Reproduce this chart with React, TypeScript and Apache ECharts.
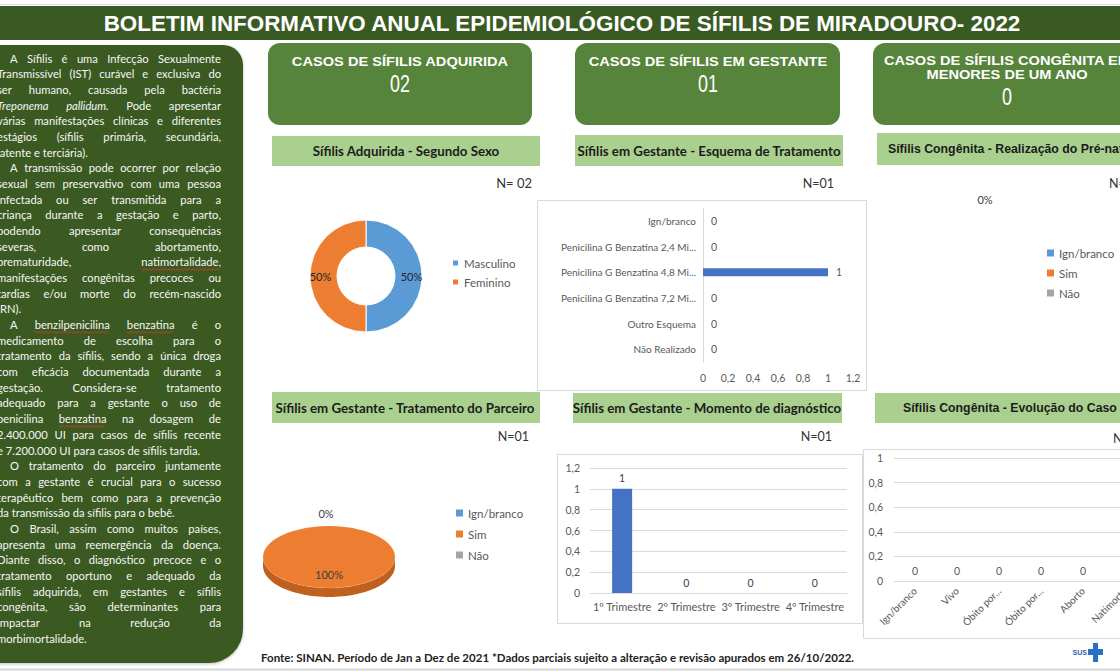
import React, { useEffect, useRef } from "react";
import * as echarts from "echarts";

// ---------------- data ----------------
const TITLE = "BOLETIM INFORMATIVO ANUAL EPIDEMIOLÓGICO DE SÍFILIS DE MIRADOURO- 2022";

const CARD_LABELS: string[][] = [
  ["CASOS DE SÍFILIS ADQUIRIDA"],
  ["CASOS DE SÍFILIS EM GESTANTE"],
  ["CASOS DE SÍFILIS CONGÊNITA EM", "MENORES DE UM ANO"],
];
const CARD_VALUES = ["02", "01", "0"];

const HEADER_TITLES = [
  "Sífilis Adquirida - Segundo Sexo",
  "Sífilis em Gestante - Esquema de Tratamento",
  "Sífilis Congênita - Realização do Pré-natal",
  "Sífilis em Gestante - Tratamento do Parceiro",
  "Sífilis em Gestante - Momento de diagnóstico",
  "Sífilis Congênita - Evolução do Caso",
];
const N_LABELS = ["N= 02", "N=01", "N=0", "N=01", "N=01", "N=0"];

const SEXO_CATEGORIES = ["Masculino", "Feminino"];
const SEXO_VALUES = [1, 1];

const ESQUEMA_CATEGORIES = [
  "Ign/branco",
  "Penicilina G Benzatina 2,4 Mi...",
  "Penicilina G Benzatina 4,8 Mi...",
  "Penicilina G Benzatina 7,2 Mi...",
  "Outro Esquema",
  "Não Realizado",
];
const ESQUEMA_VALUES = [0, 0, 1, 0, 0, 0];

const PRENATAL_CATEGORIES = ["Ign/branco", "Sim", "Não"];
const PRENATAL_VALUES = [0, 0, 0];

const PARCEIRO_CATEGORIES = ["Ign/branco", "Sim", "Não"];
const PARCEIRO_VALUES = [0, 1, 0];

const TRIMESTRE_CATEGORIES = ["1º Trimestre", "2º Trimestre", "3º Trimestre", "4º Trimestre"];
const TRIMESTRE_VALUES = [1, 0, 0, 0];

const EVOLUCAO_CATEGORIES = ["Ign/branco", "Vivo", "Óbito por...", "Óbito por...", "Aborto", "Natimorto"];
const EVOLUCAO_VALUES = [0, 0, 0, 0, 0, 0];

const FOOTER =
  "Fonte: SINAN. Período de Jan a Dez de 2021 *Dados parciais sujeito a alteração e revisão apurados em 26/10/2022.";

// "_" = italic word, "~" = spell-check squiggle
const PANEL_PARAGRAPHS: string[][] = [
  [
    "A Sífilis é uma Infecção Sexualmente",
    "Transmissível (IST) curável e exclusiva do",
    "ser humano, causada pela bactéria",
    "_Treponema _pallidum. Pode apresentar",
    "várias manifestações clínicas e diferentes",
    "estágios (sífilis primária, secundária,",
    "latente e terciária).",
  ],
  [
    "A transmissão pode ocorrer por relação",
    "sexual sem preservativo com uma pessoa",
    "infectada ou ser transmitida para a",
    "criança durante a gestação e parto,",
    "podendo apresentar consequências",
    "severas, como abortamento,",
    "prematuridade, ~natimortalidade,",
    "manifestações congênitas precoces ou",
    "tardias e/ou morte do recém-nascido",
    "(RN).",
  ],
  [
    "A ~benzilpenicilina ~benzatina é o",
    "medicamento de escolha para o",
    "tratamento da sífilis, sendo a única droga",
    "com eficácia documentada durante a",
    "gestação. Considera-se tratamento",
    "adequado para a gestante o uso de",
    "penicilina ~benzatina na dosagem de",
    "2.400.000 UI para casos de sífilis recente",
    "e 7.200.000 UI para casos de sífilis tardia.",
  ],
  [
    "O tratamento do parceiro juntamente",
    "com a gestante é crucial para o sucesso",
    "terapêutico bem como para a prevenção",
    "da transmissão da sífilis para o bebê.",
  ],
  [
    "O Brasil, assim como muitos países,",
    "apresenta uma reemergência da doença.",
    "Diante disso, o diagnóstico precoce e o",
    "tratamento oportuno e adequado da",
    "sífilis adquirida, em gestantes e sífilis",
    "congênita, são determinantes para",
    "impactar na redução da",
    "morbimortalidade.",
  ],
];

// ---------------- styles ----------------
const DARK = "#3a5a24";
const MID = "#56843a";
const LIGHT = "#a9d08e";
const BLUE = "#5b9bd5";
const ORANGE = "#ed7d31";
const GRAY = "#a5a5a5";
const BAR = "#4472c4";
const AX = "#595959";
const GL = "#d9d9d9";
const PIE_COLORS = [BLUE, ORANGE, GRAY];
const PIE_SIDE = ["#3f78ad", "#c0601f", "#858585"];

const measureCtx = document.createElement("canvas").getContext("2d") as CanvasRenderingContext2D;
function textWidth(text: string, font: string) {
  measureCtx.font = font;
  return measureCtx.measureText(text).width;
}
const dec = (v: number) => String(Math.round(v * 10) / 10).replace(".", ",");
const pct = (v: number, total: number) => (total > 0 ? Math.round((v / total) * 100) : 0) + "%";

function panelElements() {
  const els: any[] = [];
  const size = 11.2;
  const L = -3, R = 221, INDENT = 13, TOP = 58, LH = 15.68;
  let lineIdx = 0;
  PANEL_PARAGRAPHS.forEach((para) => {
    para.forEach((line, li) => {
      const y = TOP + lineIdx * LH;
      const left = li === 0 ? L + INDENT : L;
      const words = line.split(" ").map((w) => {
        let t = w, italic = false, squig = false;
        while (t[0] === "_" || t[0] === "~") {
          if (t[0] === "_") italic = true; else squig = true;
          t = t.slice(1);
        }
        const font = `${italic ? "italic" : "normal"} normal ${size}px Lato`;
        return { t, italic, squig, w: textWidth(t, font) };
      });
      const total = words.reduce((a, b) => a + b.w, 0);
      const last = li === para.length - 1;
      const gap = last || words.length < 2 ? textWidth(" ", `${size}px Lato`) : (R - left - total) / (words.length - 1);
      let x = left;
      words.forEach((wd) => {
        els.push({
          type: "text", x, y, silent: true, z: 5,
          style: { text: wd.t, fill: "#f5f5f5", fontFamily: "Lato", fontSize: size, fontStyle: wd.italic ? "italic" : "normal", align: "left", verticalAlign: "middle" },
        });
        if (wd.squig) {
          const pts: number[][] = [];
          for (let px = 0; px <= wd.w; px += 2) pts.push([x + px, y + 7 + ((px / 2) % 2 === 0 ? 0 : 1.6)]);
          els.push({ type: "polyline", silent: true, z: 5, shape: { points: pts }, style: { stroke: "#d8392c", lineWidth: 0.9, fill: null } });
        }
        x += wd.w + gap;
      });
      lineIdx++;
    });
  });
  return els;
}

const P3 = { cx: 329, cy: 557, rx: 66, ry: 31, depth: 9 };
function renderPie3D(params: any) {
  const i = params.dataIndex;
  const vals = PARCEIRO_VALUES;
  const sum = vals.reduce((a, b) => a + b, 0);
  const total = sum || 1;
  let start = 0;
  for (let k = 0; k < i; k++) start += vals[k];
  const f0 = start / total, f1 = (start + vals[i]) / total;
  const a0 = f0 * 2 * Math.PI, a1 = f1 * 2 * Math.PI;
  const pt = (a: number, dy = 0) => [P3.cx + P3.rx * Math.sin(a), P3.cy - P3.ry * Math.cos(a) + dy];
  const children: any[] = [];
  if (a1 > a0) {
    const steps = Math.max(12, Math.ceil((a1 - a0) / (Math.PI / 90)));
    const top: number[][] = [];
    if (f1 - f0 < 0.9999) top.push([P3.cx, P3.cy]);
    for (let s = 0; s <= steps; s++) top.push(pt(a0 + ((a1 - a0) * s) / steps));
    const b0 = Math.max(a0, Math.PI / 2), b1 = Math.min(a1, (3 * Math.PI) / 2);
    if (b1 > b0) {
      const side: number[][] = [];
      const n = 60;
      for (let s = 0; s <= n; s++) side.push(pt(b0 + ((b1 - b0) * s) / n));
      for (let s = n; s >= 0; s--) side.push(pt(b0 + ((b1 - b0) * s) / n, P3.depth));
      children.push({ type: "polygon", z2: 1, shape: { points: side }, style: { fill: PIE_SIDE[i] } });
    }
    children.push({ type: "polygon", z2: 2, shape: { points: top }, style: { fill: PIE_COLORS[i], stroke: "rgba(255,255,255,0.25)", lineWidth: 0.5 } });
    const mid = (a0 + a1) / 2;
    children.push({
      type: "text", z2: 3, x: P3.cx + 0.55 * P3.rx * Math.sin(mid), y: P3.cy - 0.55 * P3.ry * Math.cos(mid),
      style: { text: pct(vals[i], sum), fill: "#404040", fontFamily: "Lato", fontSize: 11, align: "center", verticalAlign: "middle" },
    });
  } else {
    let dup = false;
    for (let j = 0; j < i; j++) {
      let sj = 0;
      for (let k = 0; k < j; k++) sj += vals[k];
      if (vals[j] === 0 && Math.abs(((sj / total) % 1) - (f0 % 1)) < 1e-6) dup = true;
    }
    if (!dup) {
      children.push({
        type: "text", z2: 3, x: P3.cx + (P3.rx + 12) * Math.sin(a0) - 3, y: P3.cy - (P3.ry + 13) * Math.cos(a0),
        style: { text: pct(vals[i], sum), fill: "#404040", fontFamily: "Lato", fontSize: 11, align: "center", verticalAlign: "middle" },
      });
    }
  }
  return { type: "group", children };
}

function buildOption() {
  const g: any[] = [];
  // top faint line and title bar
  g.push({ type: "line", silent: true, shape: { x1: 0, y1: 4.5, x2: 1200, y2: 4.5 }, style: { stroke: "#dedede", lineWidth: 1 } });
  g.push({ type: "rect", silent: true, shape: { x: 0, y: 6, width: 1200, height: 34 }, style: { fill: DARK } });
  const titleFont = "bold 22px 'Liberation Sans'";
  g.push({
    type: "text", x: 562, y: 23.5, scaleX: 919 / textWidth(TITLE, titleFont), silent: true, z: 5,
    style: { text: TITLE, fill: "#ffffff", fontFamily: "Liberation Sans", fontWeight: "bold", fontSize: 22, align: "center", verticalAlign: "middle" },
  });
  // left panel
  g.push({ type: "rect", silent: true, shape: { x: -30, y: 45, width: 273, height: 618, r: [0, 20, 34, 0] }, style: { fill: DARK, shadowBlur: 3, shadowColor: "rgba(0,0,0,0.25)", shadowOffsetY: 1 } });
  g.push(...panelElements());

  // cards
  const cardBoxes = [
    { x: 268, y: 43, w: 264, h: 82, cx: 400 },
    { x: 575, y: 43, w: 265, h: 82, cx: 708 },
    { x: 873, y: 43, w: 270, h: 82, cx: 1007 },
  ];
  const labelFont = "bold 13.5px 'Liberation Sans'";
  const kLabel = 217 / textWidth(CARD_LABELS[0][0], labelFont);
  cardBoxes.forEach((b, i) => {
    g.push({ type: "rect", silent: true, shape: { x: b.x, y: b.y, width: b.w, height: b.h, r: 12 }, style: { fill: MID } });
    const lines = CARD_LABELS[i];
    lines.forEach((ln, li) => {
      g.push({
        type: "text", silent: true, z: 5, x: b.cx, y: 61 + li * 14 - (lines.length > 1 ? 1 : 0), scaleX: kLabel,
        style: { text: ln, fill: "#ffffff", fontFamily: "Liberation Sans", fontWeight: "bold", fontSize: 13.5, align: "center", verticalAlign: "middle" },
      });
    });
    g.push({
      type: "text", silent: true, z: 5, x: b.cx, y: lines.length > 1 ? 97 : 84, scaleX: 0.78,
      style: { text: CARD_VALUES[i], fill: "#ffffff", fontFamily: "Liberation Sans", fontSize: 23, align: "center", verticalAlign: "middle" },
    });
  });

  // chart headers
  const headers = [
    { x: 272, y: 136, w: 268, h: 30, tx: 406, align: "center", arial: false },
    { x: 575, y: 135, w: 268, h: 31, tx: 709, align: "center", arial: false },
    { x: 877, y: 133, w: 300, h: 32, tx: 888, align: "left", arial: true },
    { x: 272, y: 392, w: 268, h: 31, tx: 405, align: "center", arial: false },
    { x: 573, y: 393, w: 269, h: 30, tx: 707, align: "center", arial: false },
    { x: 875, y: 393, w: 300, h: 30, tx: 903, align: "left", arial: true },
  ];
  headers.forEach((h, i) => {
    g.push({ type: "rect", silent: true, shape: { x: h.x, y: h.y, width: h.w, height: h.h }, style: { fill: LIGHT } });
    g.push({
      type: "text", silent: true, z: 5, x: h.tx, y: h.y + h.h / 2,
      style: {
        text: HEADER_TITLES[i], fill: "#1c1c1c", fontFamily: h.arial ? "Liberation Sans" : "Lato", fontWeight: "bold",
        fontSize: h.arial ? 12.3 : 13.3, align: h.align, verticalAlign: "middle",
      },
    });
  });

  // N labels
  const nPos = [
    { x: 532, y: 183, align: "right", fs: 13 },
    { x: 834, y: 183, align: "right", fs: 12.5 },
    { x: 1109, y: 183, align: "left", fs: 12.5 },
    { x: 529, y: 436, align: "right", fs: 12.5 },
    { x: 832, y: 436, align: "right", fs: 12.5 },
    { x: 1113, y: 438, align: "left", fs: 12.5 },
  ];
  nPos.forEach((p, i) => {
    g.push({
      type: "text", silent: true, z: 5, x: p.x, y: p.y,
      style: { text: N_LABELS[i], fill: "#333333", fontFamily: "Lato", fontSize: p.fs, align: p.align, verticalAlign: "middle" },
    });
  });

  // chart frames
  [
    { x: 537.5, y: 200.5, w: 329, h: 190 },
    { x: 557.5, y: 454.5, w: 305, h: 169 },
    { x: 863.5, y: 449.5, w: 290, h: 189 },
  ].forEach((b) => {
    g.push({ type: "rect", silent: true, shape: { x: b.x, y: b.y, width: b.w, height: b.h }, style: { fill: "none", stroke: GL, lineWidth: 1 } });
  });

  // pre-natal pie percentage label (all zero)
  const prenatalSum = PRENATAL_VALUES.reduce((a, b) => a + b, 0);
  g.push({
    type: "text", silent: true, z: 5, x: 985, y: 199,
    style: { text: pct(PRENATAL_VALUES[0], prenatalSum), fill: "#404040", fontFamily: "Lato", fontSize: 11, align: "center", verticalAlign: "middle" },
  });

  // footer
  const footFont = "bold 11px Lato";
  g.push({
    type: "text", silent: true, z: 5, x: 261, y: 658, scaleX: 594 / textWidth(FOOTER, footFont),
    style: { text: FOOTER, fill: "#222222", fontFamily: "Lato", fontWeight: "bold", fontSize: 11, align: "left", verticalAlign: "middle" },
  });
  // SUS logo
  g.push({ type: "text", silent: true, z: 5, x: 1087, y: 652.5, style: { text: "SUS", fill: "#2a62b0", fontFamily: "Liberation Sans", fontWeight: "bold", fontSize: 7, align: "right", verticalAlign: "middle" } });
  g.push({ type: "rect", silent: true, shape: { x: 1088, y: 649, width: 15, height: 6 }, style: { fill: "#2a6fc2" } });
  g.push({ type: "rect", silent: true, shape: { x: 1093, y: 643, width: 5, height: 19 }, style: { fill: "#2a6fc2" } });
  // bottom line
  g.push({ type: "line", silent: true, shape: { x1: 0, y1: 669.5, x2: 1200, y2: 669.5 }, style: { stroke: "#d6d6d6", lineWidth: 2 } });

  const legendBase = {
    orient: "vertical", icon: "rect", itemWidth: 7, itemHeight: 7, padding: 0, selectedMode: false,
    textStyle: { color: AX, fontSize: 11.5, fontFamily: "Lato" },
  };

  return {
    animation: false,
    backgroundColor: "#ffffff",
    textStyle: { fontFamily: "Lato" },
    graphic: { elements: g },
    legend: [
      { ...legendBase, data: SEXO_CATEGORIES, left: 451, top: 257, itemGap: 7 },
      { ...legendBase, data: PRENATAL_CATEGORIES, left: 1047, top: 247, itemGap: 8 },
      { ...legendBase, data: PARCEIRO_CATEGORIES, left: 456, top: 507, itemGap: 9 },
    ],
    grid: [
      { left: 703, top: 208, width: 150, height: 154 },
      { left: 590, top: 468, width: 257, height: 125 },
      { left: 894, top: 458, width: 252, height: 123 },
    ],
    xAxis: [
      {
        type: "value", gridIndex: 0, min: 0, max: 1.2, interval: 0.2,
        axisLine: { show: false }, axisTick: { show: false }, splitLine: { show: false },
        axisLabel: { formatter: dec, color: AX, fontSize: 10.5, margin: 10 },
      },
      {
        type: "category", gridIndex: 1, data: TRIMESTRE_CATEGORIES,
        axisLine: { lineStyle: { color: GL } }, axisTick: { show: false },
        axisLabel: { color: AX, fontSize: 11, margin: 8, interval: 0 },
      },
      {
        type: "category", gridIndex: 2, data: EVOLUCAO_CATEGORIES,
        axisLine: { lineStyle: { color: GL } }, axisTick: { show: false },
        axisLabel: { color: AX, fontSize: 10, margin: 8, interval: 0, rotate: 45 },
      },
    ],
    yAxis: [
      {
        type: "category", gridIndex: 0, data: ESQUEMA_CATEGORIES, inverse: true,
        axisLine: { lineStyle: { color: GL } }, axisTick: { show: false },
        axisLabel: { color: AX, fontSize: 10, margin: 7, interval: 0 },
      },
      {
        type: "value", gridIndex: 1, min: 0, max: 1.2, interval: 0.2,
        axisLine: { show: false }, axisTick: { show: false }, splitLine: { lineStyle: { color: GL } },
        axisLabel: { formatter: dec, color: AX, fontSize: 10.5, margin: 10 },
      },
      {
        type: "value", gridIndex: 2, min: 0, max: 1, interval: 0.2,
        axisLine: { show: false }, axisTick: { show: false }, splitLine: { lineStyle: { color: GL } },
        axisLabel: { formatter: dec, color: AX, fontSize: 10.5, margin: 11 },
      },
    ],
    series: [
      {
        type: "pie", name: "Sexo", center: [366, 276], radius: [29, 56], startAngle: 90, silent: true,
        percentPrecision: 0,
        itemStyle: { borderColor: "#ffffff", borderWidth: 1 },
        label: { show: true, position: "inside", formatter: "{d}%", color: "#262626", fontSize: 11, fontFamily: "Lato" },
        labelLine: { show: false },
        data: SEXO_CATEGORIES.map((n, i) => ({ name: n, value: SEXO_VALUES[i], itemStyle: { color: PIE_COLORS[i] } })),
      },
      {
        type: "bar", name: "Esquema", xAxisIndex: 0, yAxisIndex: 0, data: ESQUEMA_VALUES, barWidth: 8, silent: true,
        itemStyle: { color: BAR },
        label: { show: true, position: "right", distance: 8, color: AX, fontSize: 10.5 },
      },
      {
        type: "pie", name: "Pré-natal", center: [990, 285], radius: [0, 60], silent: true, stillShowZeroSum: false,
        label: { show: false }, labelLine: { show: false },
        data: PRENATAL_CATEGORIES.map((n, i) => ({ name: n, value: PRENATAL_VALUES[i], itemStyle: { color: PIE_COLORS[i] } })),
      },
      {
        type: "custom", name: "Parceiro", coordinateSystem: "none", silent: true,
        data: PARCEIRO_VALUES, renderItem: renderPie3D,
      },
      {
        type: "bar", name: "Trimestre", xAxisIndex: 1, yAxisIndex: 1, data: TRIMESTRE_VALUES, barWidth: 20, silent: true,
        itemStyle: { color: BAR },
        label: { show: true, position: "top", distance: 5, color: "#404040", fontSize: 10.5 },
      },
      {
        type: "bar", name: "Evolução", xAxisIndex: 2, yAxisIndex: 2, data: EVOLUCAO_VALUES, barWidth: 20, silent: true,
        itemStyle: { color: BAR },
        label: { show: true, position: "top", distance: 5, color: AX, fontSize: 10.5 },
      },
    ],
  };
}

export default function App() {
  const ref = useRef<HTMLDivElement>(null);
  useEffect(() => {
    const chart = echarts.init(ref.current as HTMLDivElement, null, { renderer: "svg" });
    chart.setOption(buildOption() as any);
    return () => chart.dispose();
  }, []);
  return (
    <div style={{ position: "absolute", left: 0, top: 0, width: 1120, height: 672, overflow: "hidden", background: "#ffffff" }}>
      <div ref={ref} style={{ width: 1200, height: 672 }} />
    </div>
  );
}
